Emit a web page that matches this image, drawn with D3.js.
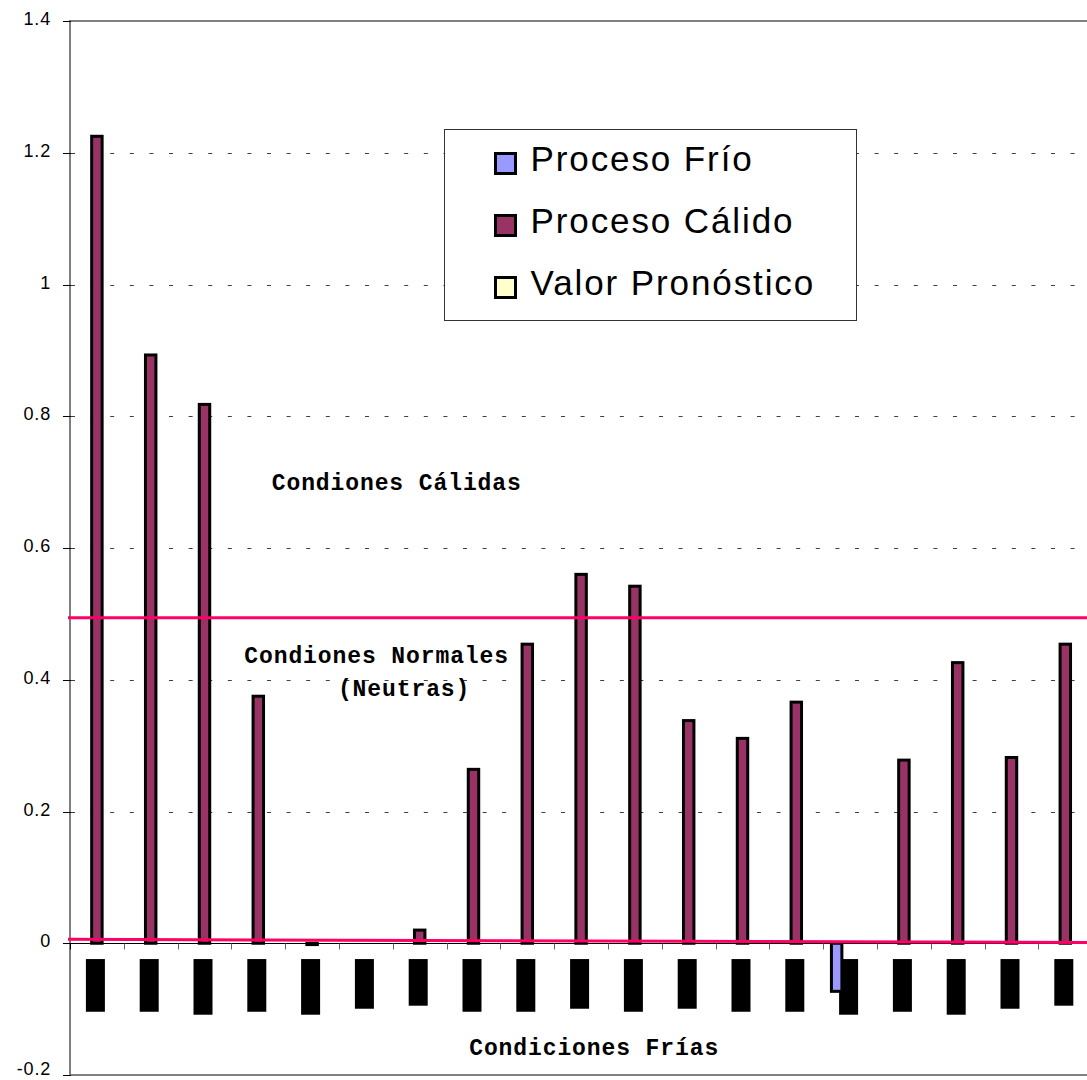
<!DOCTYPE html>
<html>
<head>
<meta charset="utf-8">
<script src="https://cdn.jsdelivr.net/npm/d3@7"></script>
<style>
  html, body { margin: 0; padding: 0; background: #ffffff; }
  svg { display: block; }
</style>
</head>
<body>
<svg id="chart" width="1087" height="1080"></svg>
<script>
// ---- data -------------------------------------------------------------
const categories = d3.range(1, 20).map(String);
const seriesNames = ["Proceso Frío", "Proceso Cálido", "Valor Pronóstico"];

const procesoFrio = [null, null, null, null, null, null, null, null, null, null,
                     null, null, null, null, -0.073, null, null, null, null];
const procesoCalido = [1.225, 0.893, 0.818, 0.375, -0.002, null, 0.020, 0.264, 0.454, 0.560,
                       0.542, 0.338, 0.311, 0.366, null, 0.278, 0.426, 0.282, 0.454];
const valorPronostico = [null, null, null, null, null, null, null, null, null, null,
                         null, null, null, null, null, null, null, null, null];

// category label blocks (filled boxes below the zero line), extent in axis units
const labelTop = -0.024;
const labelBottom = [-0.104, -0.104, -0.1085, -0.104, -0.1085, -0.0994, -0.0948, -0.104, -0.104, -0.0994,
                     -0.104, -0.0994, -0.104, -0.104, -0.1085, -0.104, -0.1085, -0.0994, -0.0948];

// threshold lines: value at the start and at the end of the plot
const upperThreshold = [0.494, 0.494];
const lowerThreshold = [0.006, 0.001];

const yTicks = [-0.2, 0, 0.2, 0.4, 0.6, 0.8, 1, 1.2, 1.4];
const yTickLabels = ["-0.2", "0", "0.2", "0.4", "0.6", "0.8", "1", "1.2", "1.4"];
const gridValues = [0.2, 0.4, 0.6, 0.8, 1, 1.2];

const annotations = [
  { text: "Condiones Cálidas", x: 3.75, y: 0.688 },
  { text: "Condiones Normales", x: 3.24, y: 0.426 },
  { text: "(Neutras)", x: 4.98, y: 0.375 },
  { text: "Condiciones Frías", x: 7.42, y: -0.170 }
];

// ---- layout -----------------------------------------------------------
const colors = { "Proceso Frío": "#9999ff", "Proceso Cálido": "#993366", "Valor Pronóstico": "#ffffcc" };
const plotLeft = 70, plotTop = 21, plotBottom = 1075;
const catStep = 53.8;
const plotRight = plotLeft + catStep * categories.length;

const svg = d3.select("#chart");

const x = d3.scaleBand().domain(categories).range([plotLeft, plotRight]).paddingInner(0).paddingOuter(0);
const xs = d3.scaleBand().domain(seriesNames).range([0, x.bandwidth()]).paddingInner(0).paddingOuter(0.5);
const y = d3.scaleLinear().domain([-0.2, 1.4]).range([plotBottom, plotTop]);
const xIdx = d3.scaleLinear().domain([0, categories.length]).range([plotLeft, plotRight]);

// dashed grid lines
svg.append("g")
  .selectAll("line").data(gridValues).join("line")
  .attr("x1", plotLeft + 1).attr("x2", plotRight)
  .attr("y1", d => Math.round(y(d)) + 0.5).attr("y2", d => Math.round(y(d)) + 0.5)
  .attr("stroke", "#404040").attr("stroke-width", 1)
  .attr("stroke-dasharray", "4,15.6");

// region annotations
svg.append("g")
  .selectAll("text").data(annotations).join("text")
  .attr("x", d => xIdx(d.x)).attr("y", d => y(d.y))
  .attr("font-family", "'Liberation Mono', 'Courier New', monospace")
  .attr("font-weight", "bold").attr("font-size", 23)
  .attr("letter-spacing", 0.9)
  .attr("fill", "#000")
  .text(d => d.text);

// frame: top and bottom borders, left value axis
svg.append("line").attr("x1", plotLeft).attr("x2", 1087).attr("y1", plotTop).attr("y2", plotTop)
  .attr("stroke", "#808080").attr("stroke-width", 2);
svg.append("line").attr("x1", plotLeft).attr("x2", 1087).attr("y1", plotBottom).attr("y2", plotBottom)
  .attr("stroke", "#808080").attr("stroke-width", 2);
svg.append("line").attr("x1", plotLeft).attr("x2", plotLeft).attr("y1", plotTop - 1).attr("y2", plotBottom + 1)
  .attr("stroke", "#808080").attr("stroke-width", 2);

// value axis ticks and labels
const yAxis = svg.append("g");
yAxis.selectAll("line").data(yTicks).join("line")
  .attr("x1", plotLeft - 7).attr("x2", plotLeft + 1)
  .attr("y1", d => Math.round(y(d)) + 0.5).attr("y2", d => Math.round(y(d)) + 0.5)
  .attr("stroke", "#000").attr("stroke-width", 1);
yAxis.selectAll("text").data(yTicks).join("text")
  .attr("x", 51).attr("y", d => Math.min(y(d) + 4, 1075))
  .attr("text-anchor", "end")
  .attr("font-family", "'Liberation Sans', Arial, sans-serif")
  .attr("font-size", 18).attr("letter-spacing", 0.8)
  .attr("fill", "#000")
  .text((d, i) => yTickLabels[i]);

// category label blocks
svg.append("g")
  .selectAll("rect").data(categories).join("rect")
  .attr("x", d => x(d) + x.bandwidth() / 2 - 11)
  .attr("width", 19)
  .attr("y", y(labelTop))
  .attr("height", (d, i) => y(labelBottom[i]) - y(labelTop))
  .attr("fill", "#000");

// bars
const seriesData = [procesoFrio, procesoCalido, valorPronostico];
const barStroke = 3;
const bars = [];
seriesNames.forEach((s, si) => {
  seriesData[si].forEach((v, i) => {
    if (v !== null) bars.push({ series: s, cat: categories[i], value: v });
  });
});
svg.append("g")
  .selectAll("rect").data(bars).join("rect")
  .attr("x", d => x(d.cat) + xs(d.series) + barStroke / 2)
  .attr("width", xs.bandwidth() - barStroke)
  .attr("y", d => Math.min(y(d.value), y(0)))
  .attr("height", d => Math.abs(y(d.value) - y(0)))
  .attr("fill", d => colors[d.series])
  .attr("stroke", "#000").attr("stroke-width", barStroke);

// category axis along zero, with ticks between categories
const yZero = Math.round(y(0)) + 0.5;
svg.append("line").attr("x1", plotLeft).attr("x2", plotRight).attr("y1", yZero).attr("y2", yZero)
  .attr("stroke", "#000").attr("stroke-width", 1);
svg.append("g")
  .selectAll("line").data(d3.range(0, categories.length + 1)).join("line")
  .attr("x1", i => Math.round(xIdx(i)) + 0.5).attr("x2", i => Math.round(xIdx(i)) + 0.5)
  .attr("y1", yZero).attr("y2", yZero + 6)
  .attr("stroke", i => i === 0 ? "#000" : "#666").attr("stroke-width", 1);

// threshold lines
const thr = d3.line().x((d, i) => i === 0 ? plotLeft - 2 : plotRight).y(d => y(d));
[upperThreshold, lowerThreshold].forEach(t => {
  svg.append("path").attr("d", thr(t))
    .attr("fill", "none").attr("stroke", "#ff0066").attr("stroke-width", 3);
});

// legend
const lg = svg.append("g").attr("transform", "translate(444.5,129.5)");
lg.append("rect").attr("width", 412).attr("height", 191)
  .attr("fill", "#fff").attr("stroke", "#333").attr("stroke-width", 1);
const rows = lg.selectAll("g.row").data(seriesNames).join("g")
  .attr("class", "row")
  .attr("transform", (d, i) => `translate(0,${i * 62})`);
rows.append("rect")
  .attr("x", 51).attr("y", 24).attr("width", 20).attr("height", 20)
  .attr("fill", d => colors[d]).attr("stroke", "#000").attr("stroke-width", 3);
rows.append("text")
  .attr("x", 86).attr("y", 41)
  .attr("font-family", "'Liberation Sans', Arial, sans-serif")
  .attr("font-size", 35).attr("letter-spacing", 1.9)
  .attr("fill", "#000")
  .text(d => d);
</script>
</body>
</html>
